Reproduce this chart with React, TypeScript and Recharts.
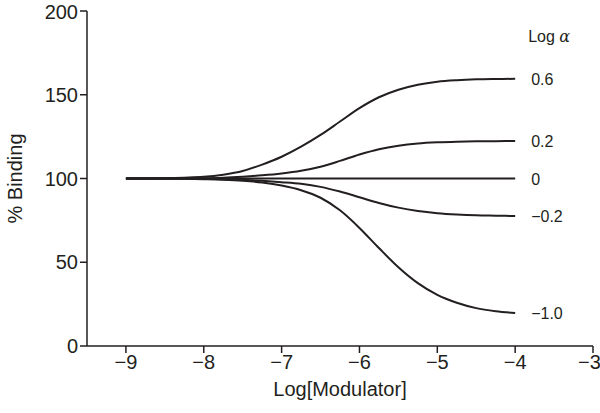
import { LineChart, Line, XAxis, YAxis, Label } from 'recharts'

const logModulator = [
  -9, -8.75, -8.5, -8.25, -8, -7.75, -7.5, -7.25, -7, -6.75, -6.5,
  -6.25, -6, -5.75, -5.5, -5.25, -5, -4.75, -4.5, -4.25, -4,
]
const alpha06 = [100, 100, 100.2, 100.5, 101, 102.3, 104.5, 108.3, 113, 119, 126, 134, 142, 148.5, 153, 156, 157.8, 158.7, 159.2, 159.4, 159.5]
const alpha02 = [100, 100, 100, 100.1, 100.2, 100.5, 101.1, 101.9, 103, 104.6, 107, 110.5, 114.3, 117.5, 119.6, 120.9, 121.6, 122, 122.2, 122.3, 122.4]
const alpha0 = [100, 100, 100, 100, 100, 100, 100, 100, 100, 100, 100, 100, 100, 100, 100, 100, 100, 100, 100, 100, 100]
const alphaM02 = [100, 100, 100, 99.9, 99.8, 99.6, 99.2, 98.6, 97.8, 96.8, 95, 92.2, 88.8, 85.4, 82.6, 80.6, 79.3, 78.5, 78, 77.8, 77.6]
const alphaM10 = [100, 100, 99.9, 99.8, 99.6, 99.3, 98.7, 97.6, 95.8, 93, 88.5, 81, 70.5, 58.5, 47, 37.5, 30.5, 25.8, 22.6, 20.8, 19.7]

const seriesNames = ['0.6', '0.2', '0', '\u22120.2', '\u22121.0']
const seriesValues = [alpha06, alpha02, alpha0, alphaM02, alphaM10]
const xTicks = [-9, -8, -7, -6, -5, -4, -3]
const yTicks = [0, 50, 100, 150, 200]

const data = logModulator.map((x, i) => {
  const row: Record<string, number> = { x }
  seriesValues.forEach((vals, k) => {
    row[`s${k}`] = vals[i]
  })
  return row
})

const ink = '#231f20'
const font = 'Liberation Sans, Arial, Helvetica, sans-serif'

const fmt = (v: number) => (v < 0 ? `\u2212${Math.abs(v)}` : `${v}`)

const endLabel = (name: string, withTitle: boolean) => (props: any) => {
  const { x, y, index } = props
  if (index !== logModulator.length - 1) return null
  return (
    <g>
      {withTitle && (
        <text x={x + 13} y={y - 42} dy={5} fontSize={16} fill={ink} fontFamily={font}>
          Log <tspan fontStyle="italic" fontFamily="DejaVu Serif, serif">α</tspan>
        </text>
      )}
      <text x={x + 16} y={y} dy={6} fontSize={16} fill={ink} fontFamily={font}>
        {name}
      </text>
    </g>
  )
}

export default function App() {
  return (
    <div style={{ position: 'absolute', left: 0, top: 0, background: '#fff' }}>
      <LineChart
        width={600}
        height={413}
        data={data}
        margin={{ top: 11, right: 7, bottom: 17, left: 27 }}
      >
        <XAxis
          dataKey="x"
          type="number"
          domain={[-9.5, -3]}
          ticks={xTicks}
          tickFormatter={fmt}
          stroke={ink}
          strokeWidth={1.5}
          tickSize={7}
          height={50}
          tick={{ fill: ink, fontSize: 20, fontFamily: font }}
        >
          <Label value="Log[Modulator]" position="insideBottom" offset={0} fill={ink} fontSize={20} fontFamily={font} />
        </XAxis>
        <YAxis
          type="number"
          domain={[0, 200]}
          ticks={yTicks}
          stroke={ink}
          strokeWidth={1.5}
          tickSize={7}
          width={60}
          tick={{ fill: ink, fontSize: 20, fontFamily: font }}
        >
          <Label value="% Binding" angle={-90} position="insideLeft" offset={-12} fill={ink} fontSize={20} fontFamily={font} style={{ textAnchor: 'middle' }} />
        </YAxis>
        {seriesNames.map((name, k) => (
          <Line
            key={name}
            dataKey={`s${k}`}
            type="monotone"
            stroke={ink}
            strokeWidth={2}
            dot={false}
            isAnimationActive={false}
            label={endLabel(name, k === 0)}
          />
        ))}
      </LineChart>
    </div>
  )
}
